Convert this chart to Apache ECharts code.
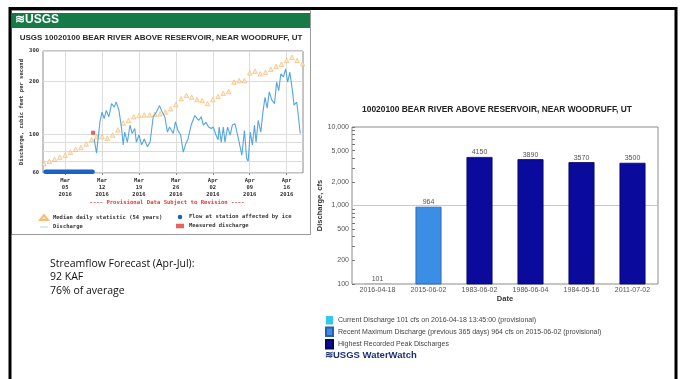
<!DOCTYPE html>
<html>
<head>
<meta charset="utf-8">
<script src="https://cdn.jsdelivr.net/npm/echarts@6/dist/echarts.min.js"></script>
<style>
html,body{margin:0;padding:0;background:#fff}
#c{width:686px;height:379px}
</style>
</head>
<body>
<div id="c"></div>
<script>
// ---- Hydrograph: USGS 10020100, Mar 1 – Apr 19 2016 (x = days since Mar 1) ----
const dayTicks = [4, 11, 18, 25, 32, 39, 46];
const dayTickLabels = ['Mar\n05\n2016', 'Mar\n12\n2016', 'Mar\n19\n2016', 'Mar\n26\n2016', 'Apr\n02\n2016', 'Apr\n09\n2016', 'Apr\n16\n2016'];
const flowTickLabels = [60, 100, 200, 300];
const flowGridValues = [60, 70, 80, 90, 100, 200, 300];

// median daily statistic (54 years), one value per day from Mar 1
const medianDay = [0,1,2,3,4,5,6,7,8,9,10,11,12,13,14,15,16,17,18,19,20,21,22,23,24,25,26,27,28,29,30,31,32,33,34,35,36,37,38,39,40,41,42,43,44,45,46,47,48,49];
const medianCfs = [68,70,72,74,76,79,82,84,88,93,97,97,95,99,106,116,120,126,128,129,129,130,131,134,140,148,160,167,163,158,156,150,158,165,172,176,199,203,203,225,230,222,227,236,245,252,265,276,265,254];

// flow affected by ice (plotted along the floor of the axis)
const iceDay = [0.3, 9.2];
const iceCfs = [61, 61];

// provisional discharge
const dischargeDay = [9.5,9.95,10.6,11.0,11.4,11.8,12.3,12.8,13.3,13.7,14.2,14.7,15.0,15.3,15.8,16.3,16.7,17.2,17.5,18.0,18.5,19.0,19.6,20.1,20.7,21.3,21.9,22.4,22.9,23.4,23.8,24.5,24.9,25.4,25.9,26.4,26.8,27.3,27.9,28.6,29.3,29.8,30.2,30.7,31.2,31.7,32.1,32.6,33.0,33.2,33.6,34.0,34.3,34.8,35.3,35.7,36.2,36.7,37.0,37.5,38.0,38.4,38.7,39.1,39.5,39.9,40.2,40.6,41.1,41.5,41.9,42.3,42.7,43.2,43.7,44.1,44.5,44.9,45.4,45.8,46.2,46.6,47.1,47.4,47.9,48.2,48.57];
const dischargeCfs = [94,78,118,134,123,137,126,150,143,153,137,108,87,103,90,113,101,108,90,99,87,94,85,90,126,134,146,134,126,103,110,101,118,105,99,79,87,94,113,128,120,126,113,117,110,108,110,99,93,110,90,110,90,110,99,113,115,99,90,76,105,73,70,103,87,113,90,120,103,134,163,141,175,157,150,199,178,222,213,237,199,227,178,147,153,129,101];

// field measurement
const measuredDay = [9.3];
const measuredCfs = [102];

// ---- Peak discharge summary ----
const peakDates = ['2016-04-18', '2015-06-02', '1983-06-02', '1986-06-04', '1984-05-16', '2011-07-02'];
const currentCfs = [101, null, null, null, null, null];
const recentMaxCfs = [null, 964, null, null, null, null];
const recordPeakCfs = [null, null, 4150, 3890, 3570, 3500];
const peakTickLabels = [100, 200, 500, 1000, 2000, 5000, 10000];
const peakMinorTicks = [100, 200, 300, 400, 500, 600, 700, 800, 900, 1000, 2000, 3000, 4000, 5000, 6000, 7000, 8000, 9000, 10000];

const NAME_MEDIAN = 'Median daily statistic (54 years)';
const NAME_ICE = 'Flow at station affected by ice';
const NAME_Q = 'Discharge';
const NAME_MEAS = 'Measured discharge';
const NAME_CUR = 'Current Discharge 101 cfs on 2016-04-18 13:45:00 (provisional)';
const NAME_RECENT = 'Recent Maximum Discharge (previous 365 days) 964 cfs on 2015-06-02 (provisional)';
const NAME_PEAK = 'Highest Recorded Peak Discharges';

const pair = (xs, ys) => xs.map((x, i) => [x, ys[i]]);
const mono = { fontFamily: 'DejaVu Sans Mono', fontWeight: 'bold', fontSize: 5.5, color: '#333' };
const sans = 'Liberation Sans';

const chart = echarts.init(document.getElementById('c'), null, { renderer: 'canvas' });

chart.setOption({
  animation: false,
  backgroundColor: '#fff',
  grid: [
    { left: 43, top: 51, width: 260, height: 122, show: true, borderColor: '#8a8a8a', borderWidth: 1, containLabel: false },
    { left: 352, top: 127, width: 306, height: 157, show: true, borderColor: '#8a8a8a', borderWidth: 1, containLabel: false }
  ],
  xAxis: [
    {
      gridIndex: 0, type: 'value', min: -0.2, max: 49.1,
      axisLine: { show: false },
      axisTick: { show: true, customValues: dayTicks, length: 2, lineStyle: { color: '#888' } },
      axisLabel: { customValues: dayTicks, formatter: v => dayTickLabels[dayTicks.indexOf(v)] || '', ...mono, lineHeight: 7, margin: 4 },
      splitLine: { show: true, customValues: dayTicks, lineStyle: { color: '#dcdcdc', width: 1 } }
    },
    {
      gridIndex: 1, type: 'category', data: peakDates,
      axisLine: { show: false }, axisTick: { show: false },
      axisLabel: { fontFamily: sans, fontSize: 7, color: '#555', margin: 3 },
      name: 'Date', nameLocation: 'middle', nameGap: 11,
      nameTextStyle: { fontFamily: sans, fontSize: 7.5, fontWeight: 'bold', color: '#333' }
    }
  ],
  yAxis: [
    {
      gridIndex: 0, type: 'log', logBase: 10, min: 60, max: 300,
      axisLine: { show: false },
      axisTick: { show: false, customValues: flowGridValues },
      axisLabel: { customValues: flowTickLabels, ...mono, margin: 4 },
      splitLine: { show: true, customValues: flowGridValues, lineStyle: { color: '#dcdcdc', width: 1 } },
      minorTick: { show: false }, minorSplitLine: { show: false },
      name: 'Discharge, cubic feet per second', nameLocation: 'middle', nameGap: 18, nameRotate: 90,
      nameTextStyle: { ...mono }
    },
    {
      gridIndex: 1, type: 'log', logBase: 10, min: 100, max: 10000,
      axisLine: { show: false },
      axisTick: { show: true, inside: true, length: 3, customValues: peakMinorTicks, lineStyle: { color: '#777' } },
      axisLabel: { customValues: peakTickLabels, formatter: v => Number(v).toLocaleString('en-US'), fontFamily: sans, fontSize: 7, color: '#555', margin: 3 },
      splitLine: { show: false },
      name: 'Discharge, cfs', nameLocation: 'middle', nameGap: 27, nameRotate: 90,
      nameTextStyle: { fontFamily: sans, fontSize: 7.5, fontWeight: 'bold', color: '#333' }
    }
  ],
  legend: [
    {
      data: [{ name: NAME_MEDIAN, icon: 'triangle' }, { name: NAME_Q, icon: 'path://M0,4.4L20,4.4L20,5.6L0,5.6Z' }],
      left: 39, top: 214, orient: 'vertical', itemGap: 3, itemWidth: 8, itemHeight: 5, padding: 0,
      textStyle: { ...mono }, selectedMode: false
    },
    {
      data: [{ name: NAME_ICE, icon: 'circle' }, { name: NAME_MEAS, icon: 'rect' }],
      left: 176, top: 214, orient: 'vertical', itemGap: 3, itemWidth: 8, itemHeight: 4.5, padding: 0,
      textStyle: { ...mono }, selectedMode: false
    },
    {
      data: [NAME_CUR, NAME_RECENT, NAME_PEAK],
      left: 325, top: 316, orient: 'vertical', itemGap: 2, itemWidth: 7, itemHeight: 8.5, padding: 0,
      icon: 'rect', textStyle: { fontFamily: sans, fontSize: 7, color: '#444' }, selectedMode: false
    }
  ],
  series: [
    {
      name: NAME_MEDIAN, type: 'scatter', xAxisIndex: 0, yAxisIndex: 0,
      data: pair(medianDay, medianCfs), symbol: 'triangle', symbolSize: 4.5,
      itemStyle: { color: '#fde9c8', borderColor: '#f2ad55', borderWidth: 0.7 }, z: 3
    },
    {
      name: NAME_ICE, type: 'line', xAxisIndex: 0, yAxisIndex: 0,
      data: pair(iceDay, iceCfs), symbol: 'none',
      lineStyle: { color: '#1c62c4', width: 4.5, cap: 'round' }, itemStyle: { color: '#1c62c4' }, z: 4
    },
    {
      name: NAME_Q, type: 'line', xAxisIndex: 0, yAxisIndex: 0,
      data: pair(dischargeDay, dischargeCfs), symbol: 'none',
      lineStyle: { color: '#55a5e2', width: 1.1 }, itemStyle: { color: '#55a5e2' }, z: 5
    },
    {
      name: NAME_MEAS, type: 'scatter', xAxisIndex: 0, yAxisIndex: 0,
      data: pair(measuredDay, measuredCfs), symbol: 'rect', symbolSize: 4,
      itemStyle: { color: '#e53a3a' }, z: 6
    },
    {
      name: 'grid-1000', type: 'line', xAxisIndex: 1, yAxisIndex: 1, data: [], z: 1,
      markLine: {
        silent: true, symbol: 'none', label: { show: false }, z: 1,
        lineStyle: { color: '#c8c8c8', width: 1, type: 'solid' },
        data: [{ yAxis: 1000 }]
      }
    },
    {
      name: NAME_CUR, type: 'bar', xAxisIndex: 1, yAxisIndex: 1, data: currentCfs,
      barWidth: 26, barGap: '-100%', clip: true, z: 3,
      itemStyle: { color: '#33c8ec' },
      label: { show: true, position: 'top', distance: 1, fontFamily: sans, fontSize: 7, color: '#555' }
    },
    {
      name: NAME_RECENT, type: 'bar', xAxisIndex: 1, yAxisIndex: 1, data: recentMaxCfs,
      barWidth: 26, barGap: '-100%', clip: true, z: 3,
      itemStyle: { color: '#3b8ee6', borderColor: '#2a5fae', borderWidth: 0.8 },
      label: { show: true, position: 'top', distance: 1, fontFamily: sans, fontSize: 7, color: '#555' }
    },
    {
      name: NAME_PEAK, type: 'bar', xAxisIndex: 1, yAxisIndex: 1, data: recordPeakCfs,
      barWidth: 26, barGap: '-100%', clip: true, z: 3,
      itemStyle: { color: '#0a0a9c', borderColor: '#05055e', borderWidth: 0.8 },
      label: { show: true, position: 'top', distance: 1, fontFamily: sans, fontSize: 7, color: '#555' }
    }
  ],
  graphic: [
    // slide frame
    { type: 'polyline', shape: { points: [[10, 400], [10, 8.5], [676, 8.5], [676, 400]] }, style: { stroke: '#000', lineWidth: 3, fill: null }, z: 10 },
    // hydrograph panel frame
    { type: 'rect', shape: { x: 11.5, y: 10.5, width: 299, height: 224 }, style: { fill: null, stroke: '#9a9a9a', lineWidth: 1 } },
    // USGS banner
    { type: 'rect', shape: { x: 12, y: 13, width: 298, height: 15 }, style: { fill: '#157a46' } },
    { type: 'text', left: 15, top: 14, style: { text: '≋USGS', fill: '#fff', font: 'bold 12px "Liberation Sans"' } },
    { type: 'text', style: { x: 161, y: 38, text: 'USGS 10020100 BEAR RIVER ABOVE RESERVOIR, NEAR WOODRUFF, UT', fill: '#2a2a2a', font: 'bold 8px "Liberation Sans"', align: 'center', verticalAlign: 'middle' } },
    { type: 'text', style: { x: 167, y: 203, text: '---- Provisional Data Subject to Revision ----', fill: '#e23a3a', font: 'bold 5.6px "DejaVu Sans Mono"', align: 'center', verticalAlign: 'middle' } },
    // peak chart title
    { type: 'text', style: { x: 497, y: 110, text: '10020100 BEAR RIVER ABOVE RESERVOIR, NEAR WOODRUFF, UT', fill: '#222', font: 'bold 8.4px "Liberation Sans"', align: 'center', verticalAlign: 'middle' } },
    { type: 'text', style: { x: 325, y: 355, text: '≋USGS WaterWatch', fill: '#1c2f78', font: 'bold 9.5px "Liberation Sans"', verticalAlign: 'middle' } },
    // forecast note
    { type: 'text', style: { x: 50, y: 257, text: 'Streamflow Forecast (Apr-Jul):\n92 KAF\n76% of average', fill: '#111', font: '10.5px "Open Sans"', lineHeight: 13.5 } }
  ]
});
</script>
</body>
</html>
